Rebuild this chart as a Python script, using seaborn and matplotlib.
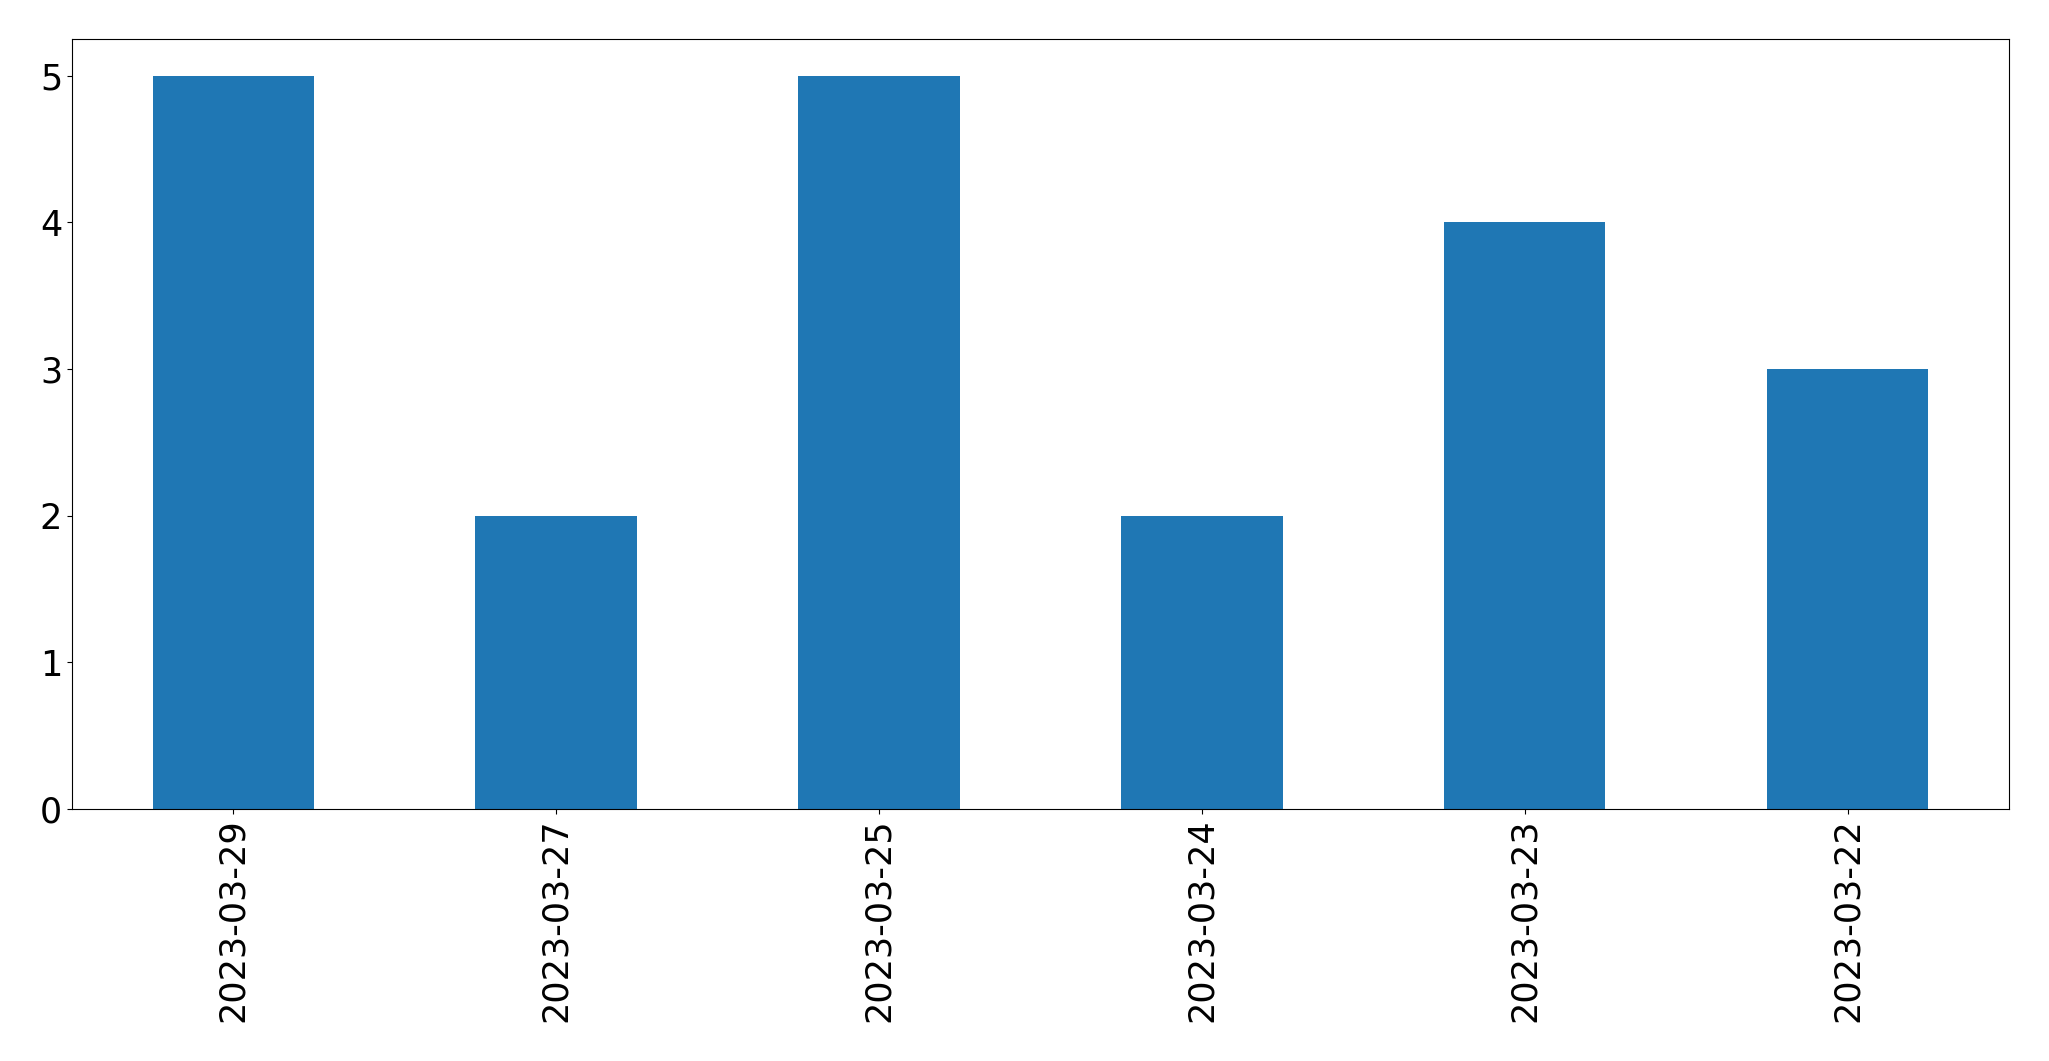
import matplotlib
matplotlib.use("Agg")
import matplotlib.pyplot as plt
import seaborn as sns
import pandas as pd

dates = ["2023-03-29", "2023-03-27", "2023-03-25", "2023-03-24", "2023-03-23", "2023-03-22"]
counts = [5, 2, 5, 2, 4, 3]

df = pd.DataFrame({"date": dates, "count": counts})

fig = plt.figure(figsize=(20.49, 10.61), dpi=100)
ax = fig.add_axes([0.0351, 0.2375, 0.9454, 0.7257])
sns.barplot(data=df, x="date", y="count", order=dates, color="#1f77b4",
            saturation=1, width=0.5, ax=ax, errorbar=None)
ax.set_xlim(-0.5, len(dates) - 0.5)
ax.set_ylim(0, 5.25)
ax.set_xlabel("")
ax.set_ylabel("")
ax.tick_params(axis="both", labelsize=25.2)
plt.setp(ax.get_xticklabels(), rotation=90)
fig.savefig("out.png", dpi=100)
